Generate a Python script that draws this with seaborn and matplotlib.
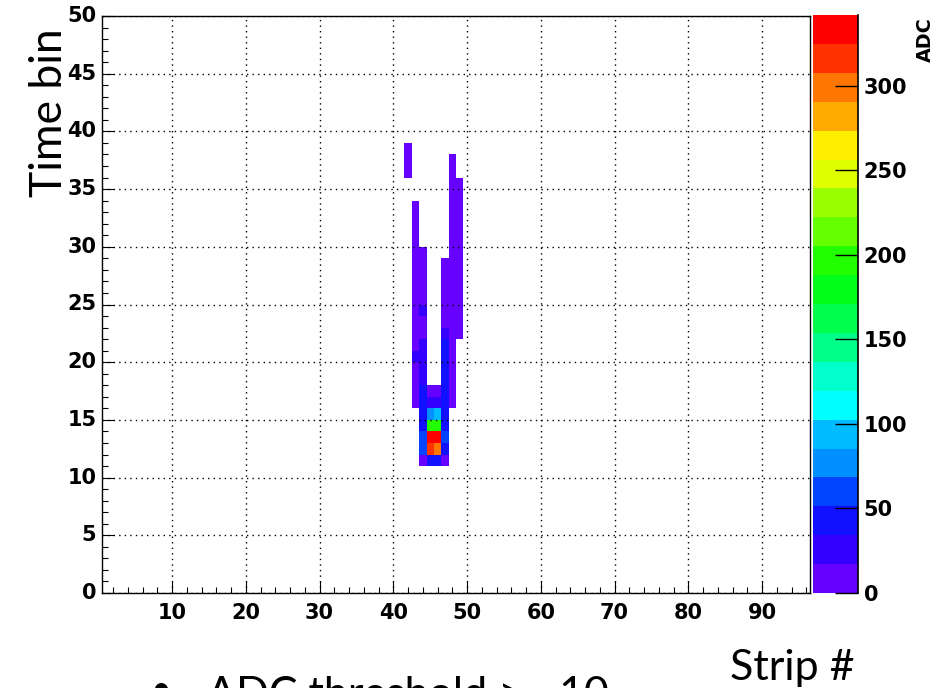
import matplotlib
matplotlib.use("Agg")
import matplotlib.pyplot as plt
import numpy as np
import pandas as pd
import seaborn as sns
from matplotlib.colors import ListedColormap
from matplotlib.ticker import FixedLocator, MultipleLocator

# Detector grid: strips along x, time bins along y
N_STRIPS = 96
N_TIME_BINS = 50

# Hit strips, the first time bin of each hit run, and the ADC per bin going up
HIT_STRIPS = [42, 43, 44, 45, 46, 47, 48, 49]
FIRST_BIN = [36, 16, 11, 11, 11, 11, 16, 22]
ADC_S42 = [12, 12, 12]
ADC_S43 = [12, 12, 12, 12, 25, 12, 12, 12, 12, 12, 12, 12, 12, 12, 12, 12, 12, 12]
ADC_S44 = [12, 55, 60, 42, 42, 42, 42, 25, 25, 25, 25, 12, 12, 25, 12, 12, 12, 12, 12]
ADC_S45 = [42, 315, 335, 195, 78, 25, 12]
ADC_S46 = [42, 300, 335, 195, 95, 25, 12]
ADC_S47 = [12, 42, 62, 42, 42, 42, 42, 36, 36, 36, 36, 25, 12, 12, 12, 12, 12, 12]
ADC_S48 = [12] * 22
ADC_S49 = [12] * 14
ADC_RUNS = [ADC_S42, ADC_S43, ADC_S44, ADC_S45, ADC_S46, ADC_S47, ADC_S48, ADC_S49]

# ROOT-like 20 level rainbow palette
PALETTE = [
    "#6600ff", "#3300ff", "#1111ff", "#0044ff", "#0090ff",
    "#00bbff", "#00ffff", "#00ffcc", "#00ff88", "#00ff4d",
    "#00ff1a", "#22ff00", "#66ff00", "#99ff00", "#ddff00",
    "#ffee00", "#ffaa00", "#ff7700", "#ff3300", "#ff0000",
]
ADC_MAX = 342
CBAR_TICKS = [0, 50, 100, 150, 200, 250, 300]
X_TICKS = [10, 20, 30, 40, 50, 60, 70, 80, 90]
Y_TICKS = [0, 5, 10, 15, 20, 25, 30, 35, 40, 45, 50]

W, H = 935, 688
SLIDE_FONT = ["Lato", "DejaVu Sans"]

plt.rcParams.update({
    "font.family": ["DejaVu Sans"],
    "font.weight": "bold",
    "axes.linewidth": 1.0,
})

grid = np.zeros((N_TIME_BINS, N_STRIPS))
for strip, first, run in zip(HIT_STRIPS, FIRST_BIN, ADC_RUNS):
    for k, adc in enumerate(run):
        grid[first + k, strip - 1] = adc
df = pd.DataFrame(grid, index=range(N_TIME_BINS), columns=range(1, N_STRIPS + 1))

fig = plt.figure(figsize=(W / 100, H / 100), dpi=100)
ax = fig.add_axes([102 / W, 1 - 593 / H, 708 / W, 577 / H])
cax = fig.add_axes([813 / W, 1 - 593 / H, 45 / W, 578 / H])

sns.heatmap(
    df,
    ax=ax,
    cbar_ax=cax,
    mask=df == 0,
    cmap=ListedColormap(PALETTE),
    vmin=0,
    vmax=ADC_MAX,
    cbar_kws={"ticks": CBAR_TICKS},
    linewidths=0,
)

# heatmap cell k spans [k, k+1]; strip s is centred at s in the original frame
ax.set_xlim(0, N_STRIPS)
ax.set_ylim(0, N_TIME_BINS)
ax.xaxis.set_major_locator(FixedLocator([s - 0.5 for s in X_TICKS]))
ax.set_xticklabels([str(s) for s in X_TICKS], rotation=0)
ax.xaxis.set_minor_locator(FixedLocator([s - 0.5 for s in range(2, N_STRIPS + 1, 2) if s % 10]))
ax.yaxis.set_major_locator(FixedLocator(Y_TICKS))
ax.set_yticklabels([str(v) for v in Y_TICKS], rotation=0)
ax.yaxis.set_minor_locator(MultipleLocator(1))
ax.set_xlabel("")
ax.set_ylabel("")

for side in ["top", "right", "bottom", "left"]:
    ax.spines[side].set_visible(True)
    ax.spines[side].set_color("black")
    ax.spines[side].set_linewidth(1.0)

ax.tick_params(which="both", direction="in", top=False, right=False, color="black", width=0.8)
ax.tick_params(which="major", length=8.6)
ax.tick_params(which="minor", length=4.3)
ax.tick_params(axis="x", which="major", labelsize=15, pad=7)
ax.tick_params(axis="y", which="major", labelsize=15, pad=4)
ax.grid(True, which="major", linestyle=(0, (1, 3)), color="black", linewidth=1.0)
ax.set_axisbelow(False)

cbar = ax.collections[0].colorbar
cbar.outline.set_visible(False)
cax.tick_params(direction="in", length=16.5, width=1.0, color="black", labelsize=15, pad=4)
cax.plot([1, 1], [0, 1], transform=cax.transAxes, color="black", lw=1.2, clip_on=False)
cax.minorticks_off()

fig.text(925 / W, 1 - 17 / H, "ADC", rotation=90, ha="center", va="top",
         fontsize=13.8, fontweight="bold")

fig.text(70 / W, 1 - 28 / H, "Time bin", rotation=90, ha="right", va="top",
         fontsize=32, fontweight="normal", family=SLIDE_FONT)
fig.text(730 / W, 1 - 680 / H, "Strip #", ha="left", va="baseline",
         fontsize=31, fontweight="normal", family=SLIDE_FONT)
# slide bullet line, cut by the bottom edge as in the source
fig.text(150 / W, 1 - 701 / H, "\u2022", ha="left", va="baseline",
         fontsize=26, fontweight="normal", family=SLIDE_FONT)
fig.text(207 / W, 1 - 707 / H, "ADC threshold >= 10", ha="left", va="baseline",
         fontsize=31, fontweight="normal", family=SLIDE_FONT)

fig.savefig("out.png", dpi=100)
